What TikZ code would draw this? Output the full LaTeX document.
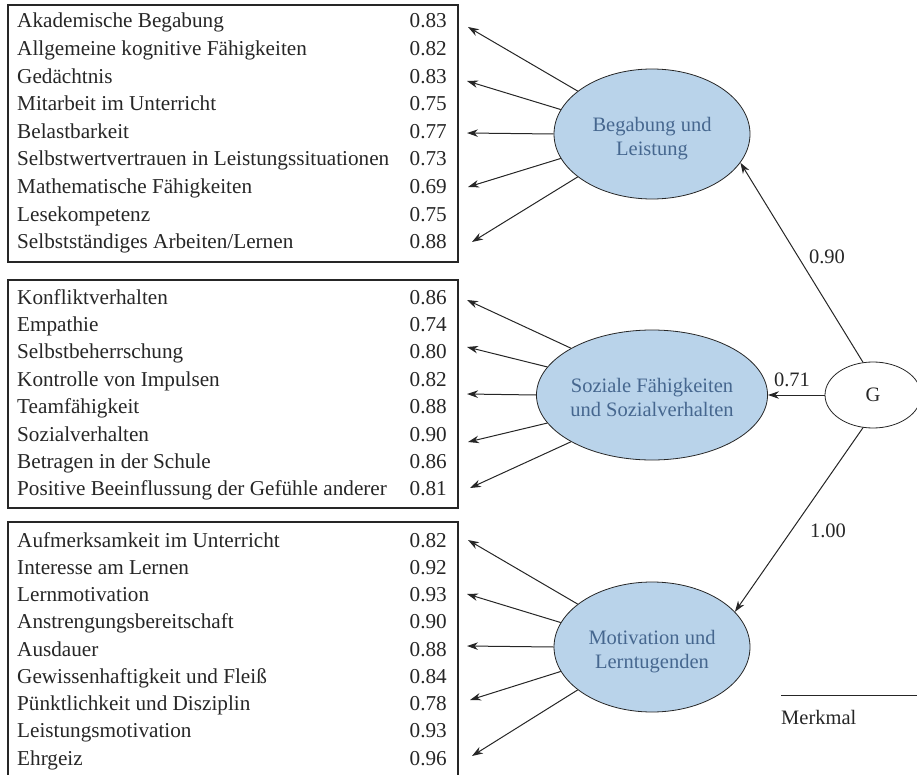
\documentclass[tikz,border=0pt]{standalone}
\usepackage{fontspec}
\setmainfont{Liberation Serif}
\usetikzlibrary{arrows.meta,shapes.geometric}
\definecolor{latfill}{HTML}{B9D3EA}
\definecolor{lattext}{HTML}{46678F}
\definecolor{ink}{HTML}{262626}
\newcommand{\lattxt}[2]{\raisebox{-9.5pt}[0pt][0pt]{\begin{tabular}{@{}c@{}}#1\\[-1pt]#2\end{tabular}}}
\begin{document}
\begin{tikzpicture}[x=1pt,y=-1pt,
  font=\fontsize{21.2}{25}\selectfont,
  item/.style={anchor=base west, inner sep=0pt, text=ink},
  val/.style={anchor=base east, inner sep=0pt, text=ink},
  framebox/.style={draw=ink, line width=1.4pt},
  latent/.style={ellipse, draw=ink, line width=0.8pt, fill=latfill, text=lattext,
    align=center, minimum width=196pt, minimum height=130pt, inner sep=0pt,
    font=\fontsize{20.5}{25}\selectfont},
  general/.style={ellipse, draw=ink, line width=0.8pt, fill=white, text=ink,
    minimum width=96pt, minimum height=66pt, inner sep=0pt,
    font=\fontsize{20.5}{25}\selectfont},
  load/.style={draw=ink, line width=1pt, -{Stealth[length=11pt,width=7.5pt]}},
  coef/.style={inner sep=0pt, text=ink, font=\fontsize{20.5}{25}\selectfont}]
\useasboundingbox (0,0) rectangle (917,775);
\clip (0,0) rectangle (917,775);

% boxes
\draw[framebox] (8,5) rectangle (458,262);
\draw[framebox] (8,280) rectangle (458,508);
\draw[framebox] (8,522) rectangle (458,790);

% box 1 items
\foreach \t/\v [count=\i] in {Akademische Begabung/0.83,
  Allgemeine kognitive Fähigkeiten/0.82,
  Gedächtnis/0.83,
  Mitarbeit im Unterricht/0.75,
  Belastbarkeit/0.77,
  Selbstwertvertrauen in Leistungssituationen/0.73,
  Mathematische Fähigkeiten/0.69,
  Lesekompetenz/0.75,
  {Selbstständiges Arbeiten/Lernen}/0.88}{
  \node[item] (a\i) at (17,{28+27.6*(\i-1)}) {\t};
  \node[val] (av\i) at (447,{28+27.6*(\i-1)}) {\v};
}
% box 2 items
\foreach \t/\v [count=\i] in {Konfliktverhalten/0.86,
  Empathie/0.74,
  Selbstbeherrschung/0.80,
  Kontrolle von Impulsen/0.82,
  Teamfähigkeit/0.88,
  Sozialverhalten/0.90,
  Betragen in der Schule/0.86,
  Positive Beeinflussung der Gefühle anderer/0.81}{
  \node[item] (s\i) at (17,{304+27.4*(\i-1)}) {\t};
  \node[val] (sv\i) at (447,{304+27.4*(\i-1)}) {\v};
}
% box 3 items
\foreach \t/\v [count=\i] in {Aufmerksamkeit im Unterricht/0.82,
  Interesse am Lernen/0.92,
  Lernmotivation/0.93,
  Anstrengungsbereitschaft/0.90,
  Ausdauer/0.88,
  Gewissenhaftigkeit und Fleiß/0.84,
  Pünktlichkeit und Disziplin/0.78,
  Leistungsmotivation/0.93,
  Ehrgeiz/0.96}{
  \node[item] (m\i) at (17,{547+27.25*(\i-1)}) {\t};
  \node[val] (mv\i) at (447,{547+27.25*(\i-1)}) {\v};
}

% latent factors
\node[latent] (B) at (652,134) {\lattxt{Begabung und}{Leistung}};
\node[latent] (S) at (652,395) {\lattxt{Soziale Fähigkeiten}{und Sozialverhalten}};
\node[latent] (M) at (652,647) {\lattxt{Motivation und}{Lerntugenden}};
\node[general] (G) at (873,395) {G};

% arrow targets
\coordinate (tb1) at (468,27);
\coordinate (tb2) at (467,81);
\coordinate (tb3) at (467,133);
\coordinate (tb4) at (468,187);
\coordinate (tb5) at (472,242);
\coordinate (ts1) at (467,300);
\coordinate (ts2) at (467,347);
\coordinate (ts3) at (467,394);
\coordinate (ts4) at (468,442);
\coordinate (ts5) at (470,488);
\coordinate (tm1) at (468,540);
\coordinate (tm2) at (467,594);
\coordinate (tm3) at (467,646);
\coordinate (tm4) at (470,700);
\coordinate (tm5) at (472,756);

\foreach \n/\t in {B/tb,S/ts,M/tm}{
  \draw[load] (\n.150) -- (\t1);
  \draw[load] (\n.165) -- (\t2);
  \draw[load] (\n.180) -- (\t3);
  \draw[load] (\n.195) -- (\t4);
  \draw[load] (\n.210) -- (\t5);
}

% general factor loadings
\draw[load] (G.107) -- (B.-18);
\draw[load] (G.180) -- (S.0);
\draw[load] (G.-107) -- (M.23);
\node[coef] (l1) at (827,257) {0.90};
\node[coef] (l2) at (792,380) {0.71};
\node[coef] (l3) at (828,531) {1.00};

% legend
\coordinate (lg1) at (781,695);
\coordinate (lg2) at (920,695);
\draw[draw=ink, line width=1pt] (lg1) -- (lg2);
\node[item, font=\fontsize{20.5}{25}\selectfont] (legend) at (781,724) {Merkmal};
\end{tikzpicture}
\end{document}
